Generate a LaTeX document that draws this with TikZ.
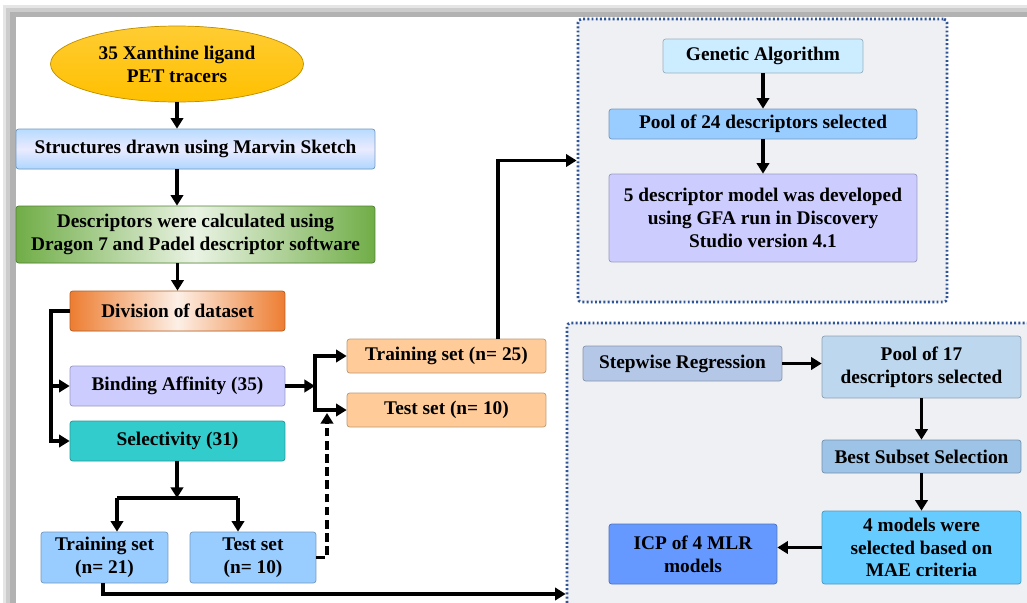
\documentclass[tikz,border=0pt]{standalone}
\usepackage{fontspec}
\setmainfont{Liberation Serif}
\usetikzlibrary{arrows.meta,shapes.geometric}

\definecolor{gold}{HTML}{FFC000}
\definecolor{lavender}{HTML}{CCCCFF}
\definecolor{teal}{HTML}{33CCCC}
\definecolor{skyblue}{HTML}{99CCFF}
\definecolor{peach}{HTML}{FFCC99}
\definecolor{panel}{HTML}{EFF0F4}
\definecolor{panelline}{HTML}{2F5597}
\definecolor{iceblue}{HTML}{CCECFF}
\definecolor{steelblue}{HTML}{B4C7E7}
\definecolor{paleblue}{HTML}{BDD7EE}
\definecolor{midblue}{HTML}{9DC3E6}
\definecolor{brightblue}{HTML}{66CCFF}
\definecolor{royalblue}{HTML}{6699FF}
\definecolor{leaf}{HTML}{70AD47}
\definecolor{rust}{HTML}{ED7D31}

\tikzset{
  box/.style={draw=#1!75!black,fill=#1,rounded corners=1.5pt,line width=0.4pt,
    align=center,inner sep=1pt,font=\fontsize{11}{13}\selectfont\bfseries},
  arr/.style={line width=2pt,-{Triangle[length=6pt,width=7pt]}},
  grp/.style={draw=panelline,fill=panel,line width=1.6pt,dash pattern=on 1.1pt off 1.3pt,rounded corners=2pt}
}

\begin{document}
\begin{tikzpicture}[x=0.02cm,y=-0.02cm]
        \clip (0,0) rectangle (1027,602);
        %% Frame with shadow
        \fill[gray!20] (3,5) rectangle (1060,620);
        \fill[gray!40] (6,8) rectangle (1060,620);
        \fill[gray!60] (10,12) rectangle (1060,620);
        \fill[white] (16,17) rectangle (1060,620);
        %% Panels
        \node[grp,minimum width=7.38cm,minimum height=5.66cm] (topgrp) at (762.5,160.5) {};
        \node[grp,minimum width=9.56cm,minimum height=5.84cm] (botgrp) at (806,469) {};
        %% Left column
        \node[box=gold,ellipse,top color=gold!80!white,bottom color=gold,minimum width=5.06cm,minimum height=1.52cm] (ell) at (177,64) {35 Xanthine ligand\\PET tracers};
        \node[box=skyblue,top color=skyblue!70,bottom color=skyblue!80,middle color=white!92!blue,minimum width=7.18cm,minimum height=0.8cm] (struct) at (195.5,149) {Structures drawn using Marvin Sketch};
        \node[box=leaf,left color=leaf,right color=leaf,middle color=leaf!15,minimum width=7.18cm,minimum height=1.14cm] (desc) at (195.5,234.5) {Descriptors were calculated using\\Dragon 7 and Padel descriptor software};
        \node[box=rust,left color=rust,right color=rust,middle color=rust!12,minimum width=4.3cm,minimum height=0.8cm] (div) at (177.5,311) {Division of dataset};
        \node[box=lavender,minimum width=4.3cm,minimum height=0.8cm] (bind) at (177.5,386) {Binding Affinity (35)};
        \node[box=teal,minimum width=4.3cm,minimum height=0.8cm] (sel) at (177.5,441) {Selectivity (31)};
        \node[box=skyblue,minimum width=2.54cm,minimum height=1.02cm] (tr21) at (104.5,557.5) {Training set\\(n= 21)};
        \node[box=skyblue,minimum width=2.52cm,minimum height=1.02cm] (te21) at (253,557.5) {Test set\\(n= 10)};
        \node[box=peach,minimum width=3.98cm,minimum height=0.68cm] (tr25) at (446.5,356) {Training set (n= 25)};
        \node[box=peach,minimum width=3.98cm,minimum height=0.68cm] (te25) at (446.5,410) {Test set (n= 10)};
        %% Genetic algorithm panel
        \node[box=iceblue,minimum width=4.0cm,minimum height=0.68cm] (ga) at (763,56) {Genetic Algorithm};
        \node[box=skyblue,minimum width=6.16cm,minimum height=0.6cm] (pool24) at (763,124) {Pool of 24 descriptors selected};
        \node[box=lavender,minimum width=6.16cm,minimum height=1.76cm] (five) at (763,218) {5 descriptor model was developed\\using GFA run in Discovery\\Studio version 4.1};
        %% Stepwise regression panel
        \node[box=steelblue,minimum width=3.98cm,minimum height=0.7cm] (stepreg) at (682.5,363.5) {Stepwise Regression};
        \node[box=paleblue,minimum width=3.98cm,minimum height=1.24cm] (pool17) at (921.5,367) {Pool of 17\\descriptors selected};
        \node[box=midblue,minimum width=3.98cm,minimum height=0.66cm] (best) at (921.5,456.5) {Best Subset Selection};
        \node[box=brightblue,minimum width=3.98cm,minimum height=1.46cm] (four) at (921.5,547.5) {4 models were\\selected based on\\MAE criteria};
        \node[box=royalblue,minimum width=3.36cm,minimum height=1.2cm] (icp) at (693,554) {ICP of 4 MLR\\models};
        %% Junctions
        \coordinate (dv) at (51,311);
        \coordinate (bj) at (315,386);
        \coordinate (sj) at (177,498);
        \coordinate (sjl) at (117,498);
        \coordinate (sjr) at (238,498);
        \coordinate (dj) at (327,413);
        \coordinate (tu) at (498,0);
        \coordinate (bl) at (103,594);
        %% Arrows, left column
        \draw[arr] (ell.south) -- (ell.south |- struct.north);
        \draw[arr] (struct.south -| ell) -- (desc.north -| ell);
        \draw[arr] (desc.south -| div) -- (div.north);
        \draw[arr] (div.west) -- (dv) |- (sel.west);
        \draw[arr] (dv |- bind) -- (bind.west);
        \draw[arr] (bind.east) -- (bj);
        \draw[arr] (bj) |- (tr25.west);
        \draw[arr] (bj) |- (te25.west);
        \draw[arr] (sel.south -| sj) -- (sj);
        \draw[line width=2pt] (sjl) -- (sjr);
        \draw[arr] (sjl) -- (sjl |- tr21.north);
        \draw[arr] (sjr) -- (sjr |- te21.north);
        \draw[arr,dash pattern=on 5pt off 2.5pt] (te21.east) -| (dj);
        \draw[arr] (tr25.north -| tu) |- (topgrp.west);
        \draw[arr] (tr21.south -| bl) |- (botgrp.west |- bl);
        %% Arrows, panels
        \draw[arr] (ga) -- (pool24);
        \draw[arr] (pool24) -- (five);
        \draw[arr] (stepreg.east) -- (stepreg.east -| pool17.west);
        \draw[arr] (pool17) -- (best);
        \draw[arr] (best) -- (four);
        \draw[arr] (four.west) -- (four.west -| icp.east);
\end{tikzpicture}
\end{document}
